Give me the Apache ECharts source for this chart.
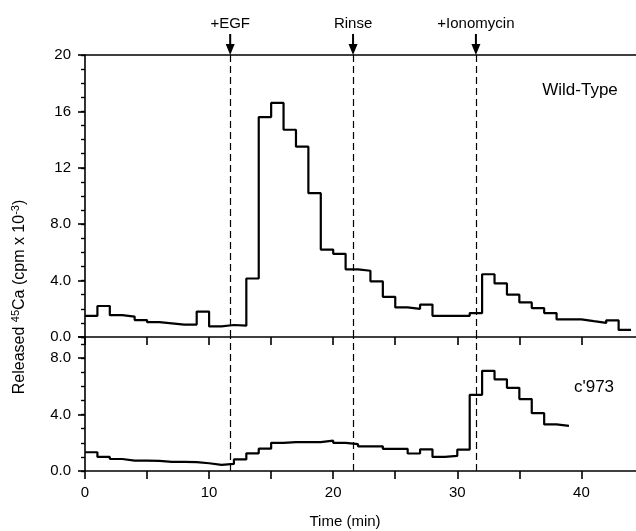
<!DOCTYPE html>
<html><head><meta charset="utf-8">
<script src="https://cdn.jsdelivr.net/npm/echarts@6/dist/echarts.min.js"></script>
<style>html,body{margin:0;padding:0;background:#fff}#c{width:636px;height:531px}</style>
</head><body><div id="c"></div>
<script>
// Wild-Type: 1-min collection bins (bin start times) and released 45Ca (cpm x 10^-3)
const wildTypeTimes = [0,1,2,3,4,5,6,7,8,9,10,11,12,13,14,15,16,17,18,19,20,21,22,23,24,25,26,27,28,29,30,31,32,33,34,35,36,37,38,39,40,41,42,43];
const wildTypeValues = [1.5,2.2,1.55,1.45,1.2,1.05,0.97,0.88,0.88,1.8,0.75,0.85,0.8,4.15,15.6,16.6,14.7,13.5,10.2,6.2,5.9,4.8,4.7,3.95,2.85,2.1,2.0,2.3,1.5,1.5,1.5,1.7,4.45,3.8,3.0,2.45,2.05,1.7,1.25,1.25,1.12,1.0,1.18,0.5];
const wildTypeEnd = 44;
// c'973 mutant
const c973Times = [0,1,2,3,4,5,6,7,8,9,10,11,12,13,14,15,16,17,18,19,20,21,22,23,24,25,26,27,28,29,30,31,32,33,34,35,36,37,38];
const c973Values = [1.33,1.0,0.85,0.74,0.73,0.72,0.65,0.64,0.63,0.55,0.43,0.5,0.82,1.25,1.58,2.0,2.05,2.05,2.05,2.15,2.0,1.9,1.75,1.75,1.57,1.57,1.24,1.54,1.0,1.07,1.52,5.4,7.1,6.5,5.9,5.1,4.1,3.3,3.2];
const c973End = 39;
// treatment events
const eventTimes = [11.7, 21.6, 31.5];
const eventLabels = ['+EGF', 'Rinse', '+Ionomycin'];
// ticks and tick labels
const xTickValues = [0, 5, 10, 15, 20, 25, 30, 35, 40];
const xTickLabels = [0, 10, 20, 30, 40];
const topYTickLabels = [0, 4, 8, 12, 16, 20];
const bottomYTickLabels = [0, 4, 8];

const FONT = "'Liberation Sans', Arial, Helvetica, sans-serif";
const BLACK = '#000';

function stepData(times, values, end) {
  const d = times.map((t, i) => [t, values[i]]);
  d.push([end, values[values.length - 1]]);
  return d;
}
function yFmt(list) {
  return v => list.indexOf(v) >= 0 ? (v >= 10 ? String(v) : v.toFixed(1)) : '';
}
const XMAX = 44.4;
const axisLine = { show: true, onZero: false, lineStyle: { color: BLACK, width: 1.6 } };
const noLine = { show: false, onZero: false };
const labelStyle = { color: BLACK, fontSize: 15, fontFamily: FONT };

const dashed = { color: BLACK, width: 1.2, type: [7, 4] };
function eventMarks() {
  return {
    silent: true, symbol: ['none', 'none'], label: { show: false },
    lineStyle: dashed,
    data: eventTimes.map(t => ({ xAxis: t }))
  };
}

const option = {
  animation: false,
  backgroundColor: '#fff',
  grid: [
    { left: 85, right: 0, top: 55, height: 282 },
    { left: 85, right: 0, top: 337, height: 134 }
  ],
  xAxis: [
    { type: 'value', gridIndex: 0, min: 0, max: XMAX, interval: 5, position: 'bottom',
      axisLine, axisTick: { show: true, length: 8, customValues: xTickValues, lineStyle: { color: BLACK, width: 1.6 } },
      axisLabel: { show: false }, splitLine: { show: false } },
    { type: 'value', gridIndex: 0, min: 0, max: XMAX, position: 'top',
      axisLine, axisTick: { show: false }, axisLabel: { show: false }, splitLine: { show: false } },
    { type: 'value', gridIndex: 1, min: 0, max: XMAX, interval: 5, position: 'bottom',
      axisLine, axisTick: { show: true, length: 8, customValues: xTickValues, lineStyle: { color: BLACK, width: 1.6 } },
      axisLabel: Object.assign({ margin: 14, customValues: xTickLabels, formatter: v => String(v) }, labelStyle),
      splitLine: { show: false } }
  ],
  yAxis: [
    { type: 'value', gridIndex: 0, min: 0, max: 20, interval: 4, position: 'left',
      axisLine, axisTick: { show: true, length: 7, lineStyle: { color: BLACK, width: 1.6 } },
      axisLabel: Object.assign({ margin: 14, formatter: yFmt(topYTickLabels) }, labelStyle),
      splitLine: { show: false } },
    { type: 'value', gridIndex: 0, min: 0, max: 20, interval: 1, position: 'left',
      axisLine: noLine, axisTick: { show: true, length: 4, lineStyle: { color: BLACK, width: 1.4 } },
      axisLabel: { show: false }, splitLine: { show: false } },
    { type: 'value', gridIndex: 1, min: 0, max: 9.5, interval: 4, position: 'left',
      axisLine, axisTick: { show: true, length: 7, lineStyle: { color: BLACK, width: 1.6 } },
      axisLabel: Object.assign({ margin: 14, formatter: yFmt(bottomYTickLabels) }, labelStyle),
      splitLine: { show: false } },
    { type: 'value', gridIndex: 1, min: 0, max: 9.5, interval: 1, position: 'left',
      axisLine: noLine, axisTick: { show: true, length: 4, lineStyle: { color: BLACK, width: 1.4 } },
      axisLabel: { show: false }, splitLine: { show: false } }
  ],
  series: [
    { name: 'Wild-Type', type: 'line', xAxisIndex: 0, yAxisIndex: 0, step: 'end', symbol: 'none',
      lineStyle: { color: BLACK, width: 2.2 }, data: stepData(wildTypeTimes, wildTypeValues, wildTypeEnd),
      markLine: eventMarks() },
    { name: "c'973", type: 'line', xAxisIndex: 2, yAxisIndex: 2, step: 'end', symbol: 'none',
      lineStyle: { color: BLACK, width: 2.2 }, data: stepData(c973Times, c973Values, c973End),
      markLine: eventMarks() }
  ]
};

const chart = echarts.init(document.getElementById('c'), null, { renderer: 'canvas' });
chart.setOption(option);

const gfx = [];
eventTimes.forEach((t, i) => {
  const p = chart.convertToPixel({ seriesIndex: 0 }, [t, 20]);
  const px = p[0], py = p[1];
  gfx.push({ type: 'line', shape: { x1: px, y1: py - 21, x2: px, y2: py - 9 }, style: { stroke: BLACK, lineWidth: 2 } });
  gfx.push({ type: 'polygon', shape: { points: [[px - 4.5, py - 11], [px + 4.5, py - 11], [px, py]] }, style: { fill: BLACK } });
  gfx.push({ type: 'text', x: px, y: py - 31, style: { text: eventLabels[i], fill: BLACK, font: '15px ' + FONT, align: 'center', verticalAlign: 'middle' } });
});
gfx.push({ type: 'text', x: 580, y: 90, style: { text: 'Wild-Type', fill: BLACK, font: '17px ' + FONT, align: 'center', verticalAlign: 'middle' } });
gfx.push({ type: 'text', x: 594, y: 387, style: { text: "c'973", fill: BLACK, font: '17px ' + FONT, align: 'center', verticalAlign: 'middle' } });
gfx.push({ type: 'text', x: 345, y: 522, style: { text: 'Time (min)', fill: BLACK, font: '15px ' + FONT, align: 'center', verticalAlign: 'middle' } });
gfx.push({ type: 'text', x: 20, y: 297, rotation: Math.PI / 2,
  style: { text: 'Released {sup|45}Ca (cpm x 10{sup|-3})', fill: BLACK, fontSize: 16, fontFamily: FONT, lineHeight: 20,
    align: 'center', verticalAlign: 'middle',
    rich: { sup: { fontSize: 11, fontFamily: FONT, fill: BLACK, verticalAlign: 'top', lineHeight: 20 } } } });
chart.setOption({ graphic: gfx });
</script>
</body></html>
